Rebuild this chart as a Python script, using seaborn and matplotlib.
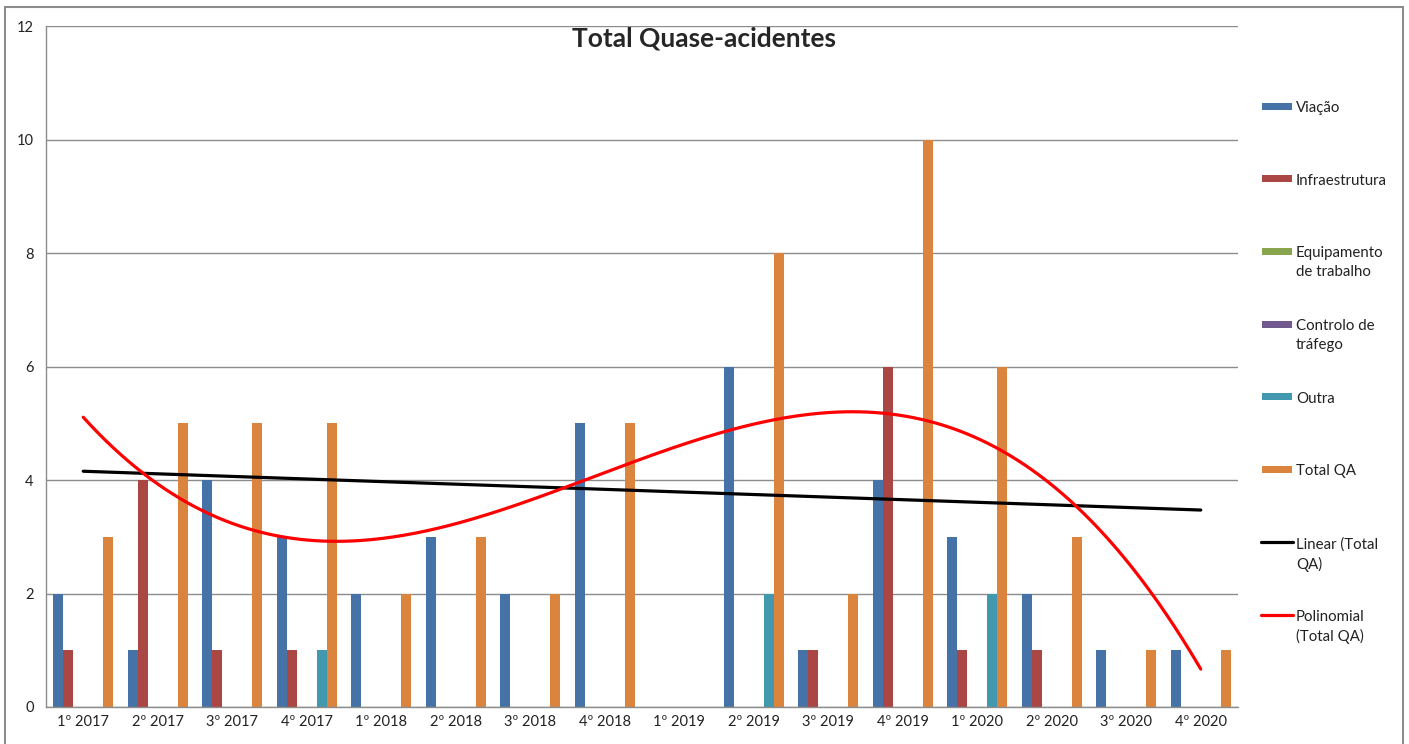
import numpy as np
import pandas as pd
import matplotlib.pyplot as plt
import seaborn as sns
from matplotlib.lines import Line2D
from matplotlib.patches import Rectangle

quarters = ['1º 2017', '2º 2017', '3º 2017', '4º 2017',
            '1º 2018', '2º 2018', '3º 2018', '4º 2018',
            '1º 2019', '2º 2019', '3º 2019', '4º 2019',
            '1º 2020', '2º 2020', '3º 2020', '4º 2020']

viacao = [2, 1, 4, 3, 2, 3, 2, 5, 0, 6, 1, 4, 3, 2, 1, 1]
infraestrutura = [1, 4, 1, 1, 0, 0, 0, 0, 0, 0, 1, 6, 1, 1, 0, 0]
equipamento = [0, 0, 0, 0, 0, 0, 0, 0, 0, 0, 0, 0, 0, 0, 0, 0]
controlo = [0, 0, 0, 0, 0, 0, 0, 0, 0, 0, 0, 0, 0, 0, 0, 0]
outra = [0, 0, 0, 1, 0, 0, 0, 0, 0, 2, 0, 0, 2, 0, 0, 0]
total_qa = [3, 5, 5, 5, 2, 3, 2, 5, 0, 8, 2, 10, 6, 3, 1, 1]

series_names = ['Viação', 'Infraestrutura', 'Equipamento\nde trabalho',
                'Controlo de\ntráfego', 'Outra', 'Total QA']
colors = ['#4572A7', '#AA4643', '#89A54E', '#71588F', '#4198AF', '#DB843D']

df = pd.DataFrame({'quarter': quarters * 6,
                   'series': np.repeat(series_names, len(quarters)),
                   'value': viacao + infraestrutura + equipamento + controlo + outra + total_qa})

sns.set_style('white')
plt.rcParams['font.family'] = ['Lato', 'DejaVu Sans']

W, H = 1409, 744
fig = plt.figure(figsize=(W / 100, H / 100), dpi=100)
ax = fig.add_axes([46 / W, 1 - 707 / H, (1238 - 46) / W, (707 - 26) / H])

sns.barplot(data=df, x='quarter', y='value', hue='series', palette=colors,
            saturation=1, width=0.8, linewidth=0, errorbar=None, ax=ax, legend=False)

# trend lines fitted to Total QA, like Excel does
xs = np.arange(len(quarters))
xx = np.linspace(0, len(quarters) - 1, 300)
lin = np.polyfit(xs, total_qa, 1)
poly = np.polyfit(xs, total_qa, 3)
ax.plot(xs, np.polyval(lin, xs), color='black', lw=2.3, zorder=5)
ax.plot(xx, np.polyval(poly, xx), color='#FF0000', lw=2.3, zorder=6)

ax.set_xlim(-0.5, len(quarters) - 0.5)
ax.set_ylim(0, 12)
ax.set_yticks(range(0, 13, 2))
ax.set_xlabel('')
ax.set_ylabel('')
ax.yaxis.grid(True, color='#8C8C8C', lw=1)
ax.set_axisbelow(True)
ax.set_xticks(np.arange(-0.5, len(quarters), 1))
ax.set_xticklabels([])
ax.set_xticks(xs, minor=True)
ax.set_xticklabels(quarters, minor=True)
ax.tick_params(axis='x', which='major', direction='out', length=6, color='#8C8C8C', width=1)
ax.tick_params(axis='x', which='minor', length=0, labelsize=10.5, pad=6, labelcolor='#222222')
ax.tick_params(axis='y', direction='out', length=5, color='#8C8C8C', width=1,
               labelsize=10.5, labelcolor='#222222', pad=4)
for s in ['top', 'right']:
    ax.spines[s].set_visible(False)
for s in ['left', 'bottom']:
    ax.spines[s].set_color('#8C8C8C')
    ax.spines[s].set_linewidth(1)

fig.text(0.5, 1 - 38 / H, 'Total Quase-acidentes', ha='center', va='center',
         fontsize=19, fontweight='bold')

# legend, Excel style: equal slots, handle next to the first line of text
leg_labels = series_names + ['Linear (Total\nQA)', 'Polinomial\n(Total QA)']
leg_kinds = ['bar'] * 6 + ['line', 'line']
leg_colors = colors + ['black', '#FF0000']
y0, step = 106, 72.7
for i, (lab, kind, c) in enumerate(zip(leg_labels, leg_kinds, leg_colors)):
    yc = y0 + i * step
    if kind == 'bar':
        fig.add_artist(Rectangle((1262 / W, 1 - (yc + 3.5) / H), 30 / W, 7 / H,
                                 facecolor=c, edgecolor='none'))
    else:
        fig.add_artist(Line2D([1261 / W, 1293 / W], [1 - yc / H, 1 - yc / H], color=c, lw=2.3))
    fig.text(1296 / W, 1 - (yc - 5) / H, lab, ha='left', va='top', fontsize=10.8,
             linespacing=1.45, color='#222222')

# outer chart border
bc = '#8C8C8C'
fig.add_artist(Line2D([5 / W, 5 / W], [0, 1 - 7 / H], color=bc, lw=1.5))
fig.add_artist(Line2D([5 / W, 1403 / W], [1 - 7 / H, 1 - 7 / H], color=bc, lw=1.5))
fig.add_artist(Line2D([1403 / W, 1403 / W], [0, 1 - 7 / H], color=bc, lw=1.5))

fig.savefig('out.png', dpi=100)
